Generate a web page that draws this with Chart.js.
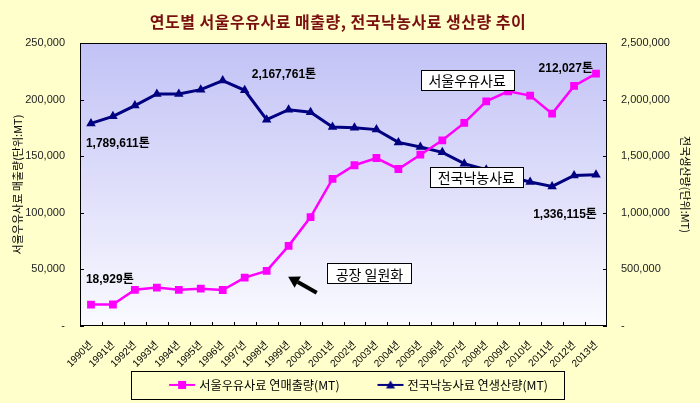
<!DOCTYPE html>
<html><head><meta charset="utf-8">
<script src="https://cdn.jsdelivr.net/npm/chart.js@4"></script>
<style>html,body{margin:0;padding:0;background:#FFFFCC;}#wrap{width:700px;height:403px;}</style>
</head><body><div id="wrap"><canvas id="c" width="700" height="403"></canvas></div>
<script>
// ---- data ----
const years = ['1990년','1991년','1992년','1993년','1994년','1995년','1996년','1997년','1998년','1999년','2000년','2001년','2002년','2003년','2004년','2005년','2006년','2007년','2008년','2009년','2010년','2011년','2012년','2013년'];
const seoulSales = [18929, 19000, 32000, 33900, 32000, 33000, 31800, 42700, 48700, 70800, 96200, 130000, 142000, 148400, 138700, 151300, 164000, 179400, 198500, 207300, 203500, 187600, 212027, 223000];
const nationalProduction = [1789611, 1852000, 1947000, 2050000, 2050000, 2088000, 2167761, 2082000, 1823000, 1911000, 1888000, 1758000, 1752000, 1735000, 1622000, 1581000, 1534000, 1434000, 1380000, 1320000, 1272000, 1233000, 1330000, 1336115];
const leftAxisRange = [0, 250000, 50000];
const rightAxisRange = [0, 2500000, 500000];
const chartTitle = '연도별 서울우유사료 매출량, 전국낙농사료 생산량 추이';
const seriesNames = ['서울우유사료 연매출량(MT)', '전국낙농사료 연생산량(MT)'];
const axisTitles = ['서울우유사료 매출량(단위:MT)', '전국생산량(단위:MT)'];
const valueNotes = ['1,789,611톤', '2,167,761톤', '212,027톤', '1,336,115톤', '18,929톤'];
const boxNotes = ['서울우유사료', '전국낙농사료', '공장 일원화'];

// ---- annotation placement (category index / left-axis value) ----
const notePlaces = [
  {at:-0.23, val:161400, align:'left'},
  {at:7.32, val:221700, align:'left'},
  {at:22.86, val:227650, align:'right'},
  {at:23.04, val:98670, align:'right'},
  {at:-0.23, val:41250, align:'left'}
];
const boxPlaces = [
  {at:17.13, val:217580},
  {at:17.55, val:131890},
  {at:12.68, val:46550}
];
const arrowPlace = {from:[10.28, 29420], to:[8.98, 43550]};

const PINK = '#FF00FF', NAVY = '#000080';
const FONT = '"Liberation Sans", Arial, "Noto Sans CJK KR", sans-serif';
const KFONT = '"Noto Sans CJK KR", "Liberation Sans", sans-serif';
const LEG_BOX = 54, LEG_PAD = 8, LEG_FONT = 12.2;

function legendIcon(color, style) {
  const c = document.createElement('canvas');
  c.width = LEG_BOX + 8; c.height = 12;
  const g = c.getContext('2d');
  const x0 = LEG_BOX - 20, x1 = LEG_BOX + 6, mx = (x0 + x1) / 2;
  g.strokeStyle = color; g.lineWidth = 2;
  g.beginPath(); g.moveTo(x0, 6); g.lineTo(x1, 6); g.stroke();
  g.fillStyle = color;
  if (style === 'rect') { g.fillRect(mx - 4, 2, 8, 8); }
  else { g.beginPath(); g.moveTo(mx, 1.5); g.lineTo(mx + 4.5, 9.5); g.lineTo(mx - 4.5, 9.5); g.closePath(); g.fill(); }
  return c;
}
const icons = [legendIcon(PINK, 'rect'), legendIcon(NAVY, 'triangle')];

const decor = {
  id: 'decor',
  beforeDraw(chart) {
    const {ctx, chartArea: a} = chart;
    ctx.save();
    ctx.fillStyle = '#FFFFCC';
    ctx.fillRect(0, 0, chart.width, chart.height);
    const g = ctx.createLinearGradient(0, a.top, 0, a.bottom);
    g.addColorStop(0, 'rgb(194,194,246)');
    g.addColorStop(1, 'rgb(250,250,255)');
    ctx.fillStyle = g;
    ctx.fillRect(a.left, a.top, a.right - a.left, a.bottom - a.top);
    ctx.restore();
  },
  afterDatasetsDraw(chart) {
    const {ctx, chartArea: a, scales} = chart;
    const x = scales.x, y = scales.y, y1 = scales.y1;
    ctx.save();
    // frame
    ctx.strokeStyle = '#000'; ctx.lineWidth = 1;
    ctx.strokeRect(Math.round(a.left) + 0.5, Math.round(a.top) + 0.5, Math.round(a.right - a.left) - 1, Math.round(a.bottom - a.top) - 1);
    // inner tick marks
    ctx.beginPath();
    y.ticks.forEach(t => { const p = Math.round(y.getPixelForValue(t.value)) + 0.5; ctx.moveTo(a.left, p); ctx.lineTo(a.left + 4, p); });
    y1.ticks.forEach(t => { const p = Math.round(y1.getPixelForValue(t.value)) + 0.5; ctx.moveTo(a.right, p); ctx.lineTo(a.right - 4, p); });
    for (let i = 1; i < years.length; i++) { const p = Math.round(x.getPixelForValue(i - 0.5)) + 0.5; ctx.moveTo(p, a.bottom); ctx.lineTo(p, a.bottom - 4); }
    ctx.stroke();
    // value notes
    ctx.fillStyle = '#000';
    ctx.font = 'bold 12px ' + FONT;
    ctx.textBaseline = 'middle';
    valueNotes.forEach((txt, i) => {
      const pl = notePlaces[i];
      ctx.textAlign = pl.align;
      ctx.fillText(txt, x.getPixelForValue(pl.at), y.getPixelForValue(pl.val));
    });
    // boxed labels
    ctx.font = '14px ' + KFONT;
    ctx.textAlign = 'center';
    boxNotes.forEach((txt, i) => {
      const pl = boxPlaces[i];
      const cx = x.getPixelForValue(pl.at), cy = y.getPixelForValue(pl.val);
      const w = Math.round(ctx.measureText(txt).width + 16), h = 20;
      const bx = Math.round(cx - w / 2) + 0.5, by = Math.round(cy - h / 2) + 0.5;
      ctx.fillStyle = '#fff'; ctx.fillRect(bx, by, w, h);
      ctx.strokeStyle = '#000'; ctx.lineWidth = 1; ctx.strokeRect(bx, by, w, h);
      ctx.fillStyle = '#000'; ctx.fillText(txt, cx, cy + 1);
    });
    // arrow
    const fx = x.getPixelForValue(arrowPlace.from[0]), fy = y.getPixelForValue(arrowPlace.from[1]);
    const tx = x.getPixelForValue(arrowPlace.to[0]), ty = y.getPixelForValue(arrowPlace.to[1]);
    const ang = Math.atan2(ty - fy, tx - fx);
    const hl = 11, hw = 6.5;
    const bxp = tx - hl * Math.cos(ang), byp = ty - hl * Math.sin(ang);
    ctx.strokeStyle = '#000'; ctx.lineWidth = 4; ctx.lineCap = 'butt';
    ctx.beginPath(); ctx.moveTo(fx, fy); ctx.lineTo(bxp, byp); ctx.stroke();
    ctx.fillStyle = '#000';
    ctx.beginPath();
    ctx.moveTo(tx, ty);
    ctx.lineTo(bxp + hw * Math.sin(ang), byp - hw * Math.cos(ang));
    ctx.lineTo(bxp - hw * Math.sin(ang), byp + hw * Math.cos(ang));
    ctx.closePath(); ctx.fill();
    ctx.restore();
  },
  afterDraw(chart) {
    const {ctx} = chart;
    ctx.save();
    // title
    ctx.fillStyle = '#7A1010';
    ctx.font = 'bold 16px ' + KFONT;
    try { ctx.letterSpacing = '0.5px'; } catch (e) {}
    ctx.textAlign = 'center'; ctx.textBaseline = 'middle';
    ctx.fillText(chartTitle, 338, 22);
    try { ctx.letterSpacing = '0px'; } catch (e) {}
    // legend frame
    const lg = chart.legend;
    if (lg && lg.legendHitBoxes && lg.legendHitBoxes.length) {
      const hb = lg.legendHitBoxes;
      const cy = lg.top + LEG_PAD + LEG_FONT / 2;
      const l = Math.round(hb[0].left + (LEG_BOX - 24) - 38) + 0.5;
      const r = Math.round(hb[hb.length - 1].left + hb[hb.length - 1].width + 16) + 0.5;
      const t = Math.round(cy - 14) + 0.5, b = Math.round(cy + 14) + 0.5;
      ctx.strokeStyle = '#000'; ctx.lineWidth = 1;
      ctx.strokeRect(l, t, r - l, b - t);
    }
    ctx.restore();
  }
};

new Chart(document.getElementById('c'), {
  type: 'line',
  data: {
    labels: years,
    datasets: [
      { label: seriesNames[0], data: seoulSales, yAxisID: 'y', borderColor: PINK, backgroundColor: PINK,
        borderWidth: 2.5, pointStyle: 'rect', pointRadius: 5.5, pointBorderWidth: 0, tension: 0 },
      { label: seriesNames[1], data: nationalProduction, yAxisID: 'y1', borderColor: NAVY, backgroundColor: NAVY,
        borderWidth: 3, pointStyle: 'triangle', pointRadius: 5.5, pointBorderWidth: 0, tension: 0 }
    ]
  },
  options: {
    responsive: false,
    animation: false,
    devicePixelRatio: 1,
    layout: { padding: { top: 43, left: 0, right: 0, bottom: 2 } },
    plugins: {
      title: { display: false },
      tooltip: { enabled: false },
      legend: {
        position: 'bottom',
        fullSize: false,
        labels: {
          usePointStyle: true,
          pointStyleWidth: LEG_BOX,
          padding: LEG_PAD,
          color: '#000',
          font: { family: KFONT, size: LEG_FONT },
          generateLabels: (chart) => chart.data.datasets.map((d, i) => ({
            text: d.label, pointStyle: icons[i], fillStyle: d.borderColor, strokeStyle: d.borderColor,
            lineWidth: 0, datasetIndex: i, hidden: false, fontColor: '#000'
          }))
        }
      }
    },
    scales: {
      x: {
        offset: true,
        grid: { display: false, drawTicks: false, offset: true },
        border: { display: false },
        ticks: { autoSkip: false, minRotation: 45, maxRotation: 45, padding: 13, color: '#000',
                 font: { family: FONT, size: 10 } },
        afterFit: s => { s.height = 44.8; }
      },
      y: {
        position: 'left',
        min: leftAxisRange[0], max: leftAxisRange[1],
        grid: { display: false, drawTicks: false },
        border: { display: false },
        ticks: { stepSize: leftAxisRange[2], padding: 15, color: '#222', font: { family: FONT, size: 11 },
                 callback: v => v === 0 ? '-' : v.toLocaleString('en-US') },
        title: { display: true, text: axisTitles[0], color: '#000', font: { family: KFONT, size: 11 }, padding: { top: 11, bottom: 0 } },
        afterFit: s => { s.width = 80; }
      },
      y1: {
        position: 'right',
        min: rightAxisRange[0], max: rightAxisRange[1],
        grid: { display: false, drawTicks: false },
        border: { display: false },
        ticks: { stepSize: rightAxisRange[2], padding: 14, color: '#222', font: { family: FONT, size: 11 },
                 callback: v => v === 0 ? '-' : v.toLocaleString('en-US') },
        title: { display: true, text: axisTitles[1], color: '#000', font: { family: KFONT, size: 11 }, padding: { top: 8, bottom: 0 } },
        afterFit: s => { s.width = 93; }
      }
    }
  },
  plugins: [decor]
});
</script></body></html>
